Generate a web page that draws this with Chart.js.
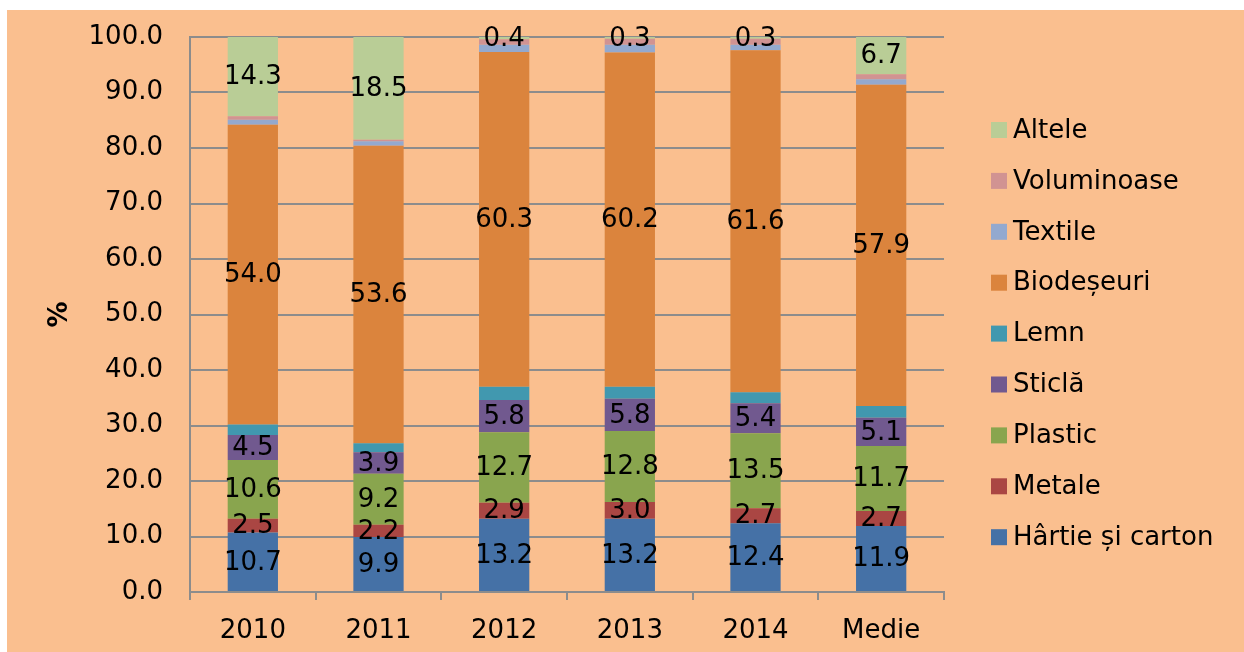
<!DOCTYPE html>
<html>
<head>
<meta charset="utf-8">
<script src="https://cdn.jsdelivr.net/npm/chart.js@4/dist/chart.umd.min.js"></script>
<style>
  html, body { margin: 0; padding: 0; background: #ffffff; }
  #wrap { position: relative; width: 1244px; height: 652px; }
</style>
</head>
<body>
<div id="wrap"><canvas id="c" width="1244" height="652"></canvas></div>
<script>
// ---- Data ----
const categories = ['2010', '2011', '2012', '2013', '2014', 'Medie'];
const hartie      = [10.7, 9.9, 13.2, 13.2, 12.4, 11.9];
const metale      = [2.5, 2.2, 2.9, 3.0, 2.7, 2.7];
const plastic     = [10.6, 9.2, 12.7, 12.8, 13.5, 11.7];
const sticla      = [4.5, 3.9, 5.8, 5.8, 5.4, 5.1];
const lemn        = [1.9, 1.6, 2.4, 2.2, 2.0, 2.1];
const biodeseuri  = [54.0, 53.6, 60.3, 60.2, 61.6, 57.9];
const textile     = [0.9, 0.8, 1.3, 1.4, 1.0, 1.0];
const voluminoase = [0.6, 0.3, 1.0, 1.1, 1.1, 0.9];
const altele      = [14.3, 18.5, 0.4, 0.3, 0.3, 6.7];

const seriesNames = ['Hârtie și carton', 'Metale', 'Plastic', 'Sticlă', 'Lemn', 'Biodeșeuri', 'Textile', 'Voluminoase', 'Altele'];
const seriesValues = [hartie, metale, plastic, sticla, lemn, biodeseuri, textile, voluminoase, altele];
const seriesColors = ['#4571A6', '#AA4643', '#89A54E', '#71598F', '#4198AF', '#DB843D', '#93A9CF', '#D19392', '#B9CD96'];
const labelledSeries = ['Hârtie și carton', 'Metale', 'Plastic', 'Sticlă', 'Biodeșeuri', 'Altele'];
const yTicks = { min: 0, max: 100, step: 10 };

const FONT = "'DejaVu Sans', Verdana, sans-serif";
const FS = 26;
const GRID = '#8c8c8c';
const BG = '#FABF8F';

Chart.defaults.font.family = FONT;
Chart.defaults.font.size = FS;
Chart.defaults.color = '#000000';

const bgPlugin = {
  id: 'bg',
  beforeDraw(chart) {
    const ctx = chart.ctx;
    ctx.save();
    ctx.fillStyle = '#ffffff';
    ctx.fillRect(0, 0, chart.width, chart.height);
    ctx.fillStyle = BG;
    ctx.fillRect(7, 10, chart.width - 7, chart.height - 10);
    ctx.restore();
  }
};

const valueLabels = {
  id: 'valueLabels',
  afterDatasetsDraw(chart) {
    const ctx = chart.ctx;
    ctx.save();
    ctx.font = FS + 'px ' + FONT;
    ctx.fillStyle = '#000000';
    ctx.textAlign = 'center';
    ctx.textBaseline = 'middle';
    chart.data.datasets.forEach((ds, di) => {
      if (!labelledSeries.includes(ds.label)) return;
      const meta = chart.getDatasetMeta(di);
      meta.data.forEach((el, i) => {
        const v = ds.data[i];
        const y = (el.y + el.base) / 2;
        ctx.fillText(v.toFixed(1), el.x, y + 1);
      });
    });
    ctx.restore();
  }
};

const sideLegend = {
  id: 'sideLegend',
  afterDraw(chart) {
    const ctx = chart.ctx;
    const ds = chart.data.datasets.slice().reverse();
    const boxX = 991, textX = 1013, firstY = 130, step = 50.9, box = 16;
    ctx.save();
    ctx.font = FS + 'px ' + FONT;
    ctx.textAlign = 'left';
    ctx.textBaseline = 'middle';
    ds.forEach((d, i) => {
      const cy = firstY + i * step;
      ctx.fillStyle = d.backgroundColor;
      ctx.fillRect(boxX, cy - box / 2, box, box);
      ctx.fillStyle = '#000000';
      ctx.fillText(d.label, textX, cy + 1);
    });
    ctx.restore();
  }
};

const datasets = seriesNames.map((name, i) => ({
  label: name,
  data: seriesValues[i],
  backgroundColor: seriesColors[i],
  borderWidth: 0,
  categoryPercentage: 0.4,
  barPercentage: 1.0
}));

new Chart(document.getElementById('c'), {
  type: 'bar',
  data: { labels: categories, datasets },
  plugins: [bgPlugin, valueLabels, sideLegend],
  options: {
    responsive: false,
    animation: false,
    events: [],
    layout: { padding: { left: 7, top: 37, right: 300, bottom: 0 } },
    plugins: {
      legend: { display: false },
      tooltip: { enabled: false },
      title: { display: false }
    },
    scales: {
      x: {
        stacked: true,
        offset: true,
        grid: {
          display: true,
          drawOnChartArea: false,
          drawTicks: true,
          tickLength: 8,
          offset: true,
          color: GRID,
          lineWidth: 2
        },
        border: { display: true, color: GRID, width: 2 },
        ticks: { padding: 16, color: '#000', font: { size: FS } },
        afterFit(scale) { scale.height = 60; }
      },
      y: {
        stacked: true,
        min: yTicks.min,
        max: yTicks.max,
        ticks: {
          stepSize: yTicks.step,
          padding: 27,
          color: '#000',
          font: { size: FS, lineHeight: 0.3 },
          callback: (v) => Number(v).toFixed(1)
        },
        grid: { color: GRID, lineWidth: 2, drawTicks: false },
        border: { display: true, color: GRID, width: 2 },
        title: {
          display: true,
          text: '%',
          color: '#000',
          font: { size: FS, weight: 'bold' },
          padding: { top: 38, bottom: 0 }
        },
        afterFit(scale) { scale.width = 183; }
      }
    }
  }
});
</script>
</body>
</html>
